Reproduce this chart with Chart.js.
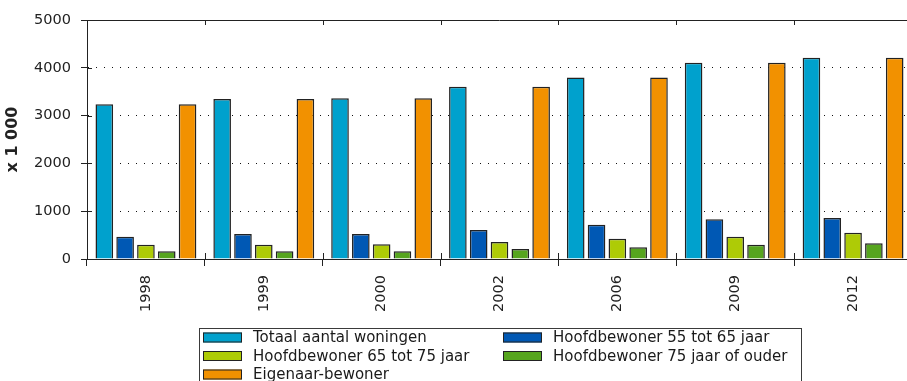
<!DOCTYPE html>
<html>
<head>
<meta charset="utf-8">
<script src="https://cdn.jsdelivr.net/npm/chart.js@4.4.1/dist/chart.umd.min.js"></script>
<style>
  html, body { margin: 0; padding: 0; overflow: hidden; background: #fff; }
  #wrap { position: relative; width: 913px; height: 381px; }
</style>
</head>
<body>
<div id="wrap"><canvas id="c"></canvas></div>
<script>
// Woningvoorraad naar leeftijd hoofdbewoner (x 1 000)
const years    = ['1998', '1999', '2000', '2002', '2006', '2009', '2012'];
const totaal   = [3240, 3345, 3365, 3605, 3795, 4105, 4210];
const hb55tot65 = [467, 523, 523, 607, 718, 831, 858];
const hb65tot75 = [299, 299, 308, 356, 425, 467, 550];
const hb75plus = [161, 161, 161, 209, 245, 299, 328];
const eigenaar = [3240, 3345, 3365, 3605, 3795, 4105, 4210];
const yTicks   = [0, 1000, 2000, 3000, 4000, 5000];

const seriesLabels = [
  'Totaal aantal woningen',
  'Hoofdbewoner 55 tot 65 jaar',
  'Hoofdbewoner 65 tot 75 jaar',
  'Hoofdbewoner 75 jaar of ouder',
  'Eigenaar-bewoner'
];
const seriesColors = ['#00a1cd', '#0058b4', '#aecb06', '#56a51e', '#f29100'];
const seriesValues = [totaal, hb55tot65, hb65tot75, hb75plus, eigenaar];

const LINE = '#222';
Chart.defaults.font.family = '"DejaVu Sans", Verdana, sans-serif';
Chart.defaults.color = '#222';

// Frame: top border, and short tick marks pointing into the plot area
const frame = {
  id: 'frame',
  afterDatasetsDraw(chart) {
    const { ctx, chartArea: a, scales: { x, y } } = chart;
    const n = x.ticks.length;
    const step = (a.right - a.left) / n;
    const px = v => Math.round(v) + 0.5;
    ctx.save();
    ctx.strokeStyle = LINE;
    ctx.lineWidth = 1;
    ctx.beginPath();
    ctx.moveTo(a.left, px(a.top));
    ctx.lineTo(a.right, px(a.top));
    ctx.moveTo(px(a.right) - 1, a.top);
    ctx.lineTo(px(a.right) - 1, a.bottom);
    for (let i = 1; i < n; i++) {
      const xx = px(a.left + i * step);
      ctx.moveTo(xx, a.top);
      ctx.lineTo(xx, a.top + 5);
      ctx.moveTo(xx, a.bottom - 6);
      ctx.lineTo(xx, a.bottom);
    }
    yTicks.slice(1, -1).forEach(v => {
      const yy = px(y.getPixelForValue(v));
      ctx.moveTo(a.left, yy);
      ctx.lineTo(a.left + 5, yy);
    });
    ctx.stroke();
    ctx.restore();
  }
};

// Boxed two-column legend under the axis
const boxLegend = {
  id: 'boxLegend',
  afterDraw(chart) {
    const { ctx } = chart;
    ctx.save();
    ctx.strokeStyle = '#3a3a3a';
    ctx.lineWidth = 1;
    ctx.strokeRect(199.5, 328.5, 602, 80);
    ctx.font = '15px "DejaVu Sans", Verdana, sans-serif';
    ctx.textBaseline = 'middle';
    ctx.textAlign = 'left';
    chart.data.datasets.forEach((ds, i) => {
      const col = i % 2, row = Math.floor(i / 2);
      const x = col ? 503 : 203;
      const y = 337.5 + row * 18.5;
      ctx.fillStyle = ds.backgroundColor;
      ctx.fillRect(x, y - 5, 39, 10);
      ctx.strokeStyle = '#222';
      ctx.strokeRect(x + 0.5, y - 4.5, 38, 9);
      ctx.fillStyle = '#1a1a1a';
      ctx.fillText(ds.label, x + 50, y + 1);
    });
    ctx.restore();
  }
};

new Chart(document.getElementById('c'), {
  type: 'bar',
  data: {
    labels: years,
    datasets: seriesLabels.map((label, i) => ({
      label,
      data: seriesValues[i],
      backgroundColor: seriesColors[i],
      borderColor: '#222',
      borderWidth: 1.5,
      categoryPercentage: 0.883,
      barPercentage: 0.846
    }))
  },
  options: {
    responsive: true,
    maintainAspectRatio: false,
    animation: false,
    layout: { padding: { top: 20, right: 1, left: 0, bottom: 0 } },
    plugins: {
      legend: { display: false },
      tooltip: { enabled: false }
    },
    scales: {
      x: {
        offset: true,
        grid: {
          display: true,
          drawOnChartArea: false,
          drawTicks: true,
          tickLength: 7,
          color: LINE,
          tickColor: LINE,
          offset: true
        },
        border: { display: true, color: LINE, width: 1 },
        ticks: {
          autoSkip: false,
          minRotation: 90,
          maxRotation: 90,
          padding: 9,
          color: '#222',
          font: { size: 14.5 }
        },
        afterFit(scale) { scale.height = 122; }
      },
      y: {
        min: yTicks[0],
        max: yTicks[yTicks.length - 1],
        afterBuildTicks(scale) { scale.ticks = yTicks.map(v => ({ value: v })); },
        grid: {
          display: true,
          drawOnChartArea: true,
          drawTicks: true,
          tickLength: 6,
          color: c => (c.tick && (c.tick.value === yTicks[0] || c.tick.value === yTicks[yTicks.length - 1])) ? 'rgba(0,0,0,0)' : '#111',
          tickColor: LINE
        },
        border: { display: true, color: LINE, width: 1, dash: [1, 7] },
        ticks: {
          padding: 10,
          color: '#222',
          font: { size: 14.5 },
          callback: v => String(v)
        },
        title: {
          display: true,
          text: 'x 1 000',
          color: '#222',
          font: { size: 16, weight: 'bold' },
          padding: { top: 3, bottom: 0 }
        },
        afterFit(scale) { scale.width = 87; }
      }
    }
  },
  plugins: [frame, boxLegend]
});
</script>
</body>
</html>
